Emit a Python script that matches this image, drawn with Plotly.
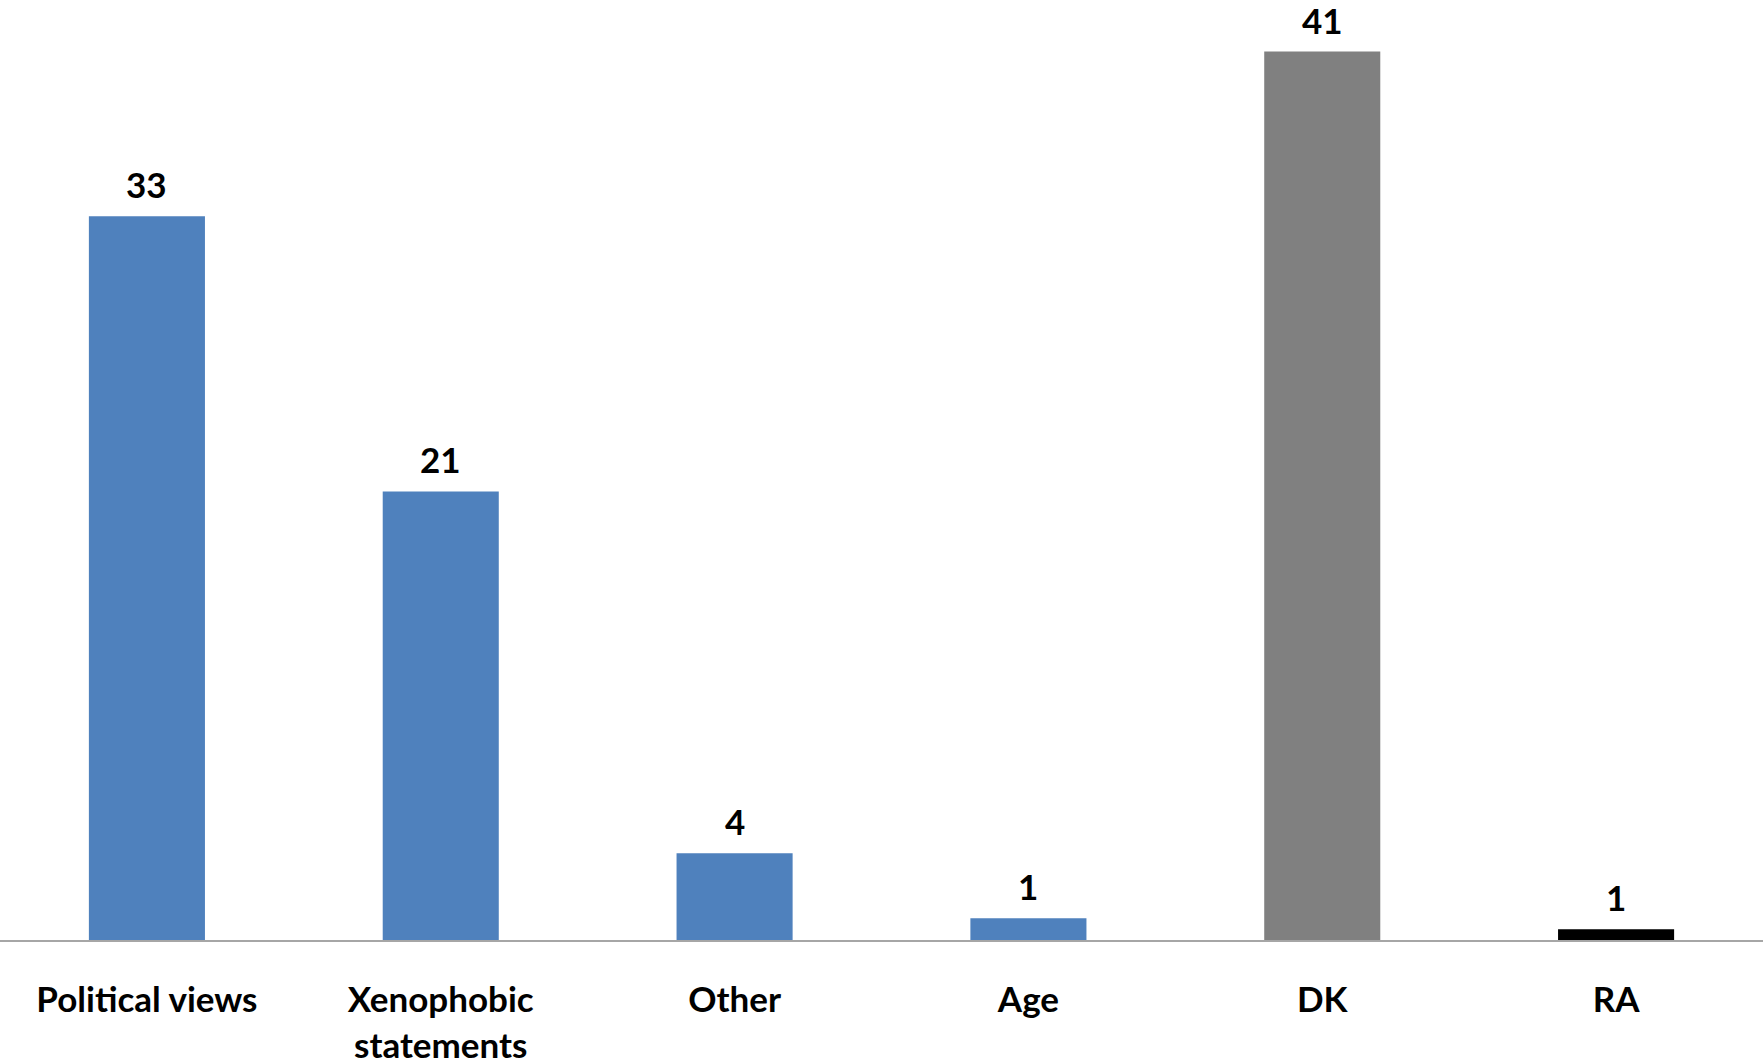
import math
import plotly.graph_objects as go

categories = ["Political views", "Xenophobic<br>statements", "Other", "Age", "DK", "RA"]
values = [33.4, 20.7, 4.0, 1.0, 41.0, 0.5]
bar_colors = ["#4F81BD", "#4F81BD", "#4F81BD", "#4F81BD", "#808080", "#000000"]
value_labels = [str(int(math.floor(v + 0.5))) for v in values]

FONT = "Lato"
FS = 35

fig = go.Figure()
fig.add_trace(go.Bar(
    x=categories,
    y=values,
    marker=dict(color=bar_colors, line=dict(width=0)),
    showlegend=False,
    hoverinfo="skip",
))

for c, v, t in zip(categories, values, value_labels):
    fig.add_annotation(
        x=c, y=v, text="<b>%s</b>" % t, showarrow=False,
        yanchor="bottom", yshift=10, borderpad=0,
        font=dict(family=FONT, size=FS, color="#000000"),
    )

fig.update_layout(
    width=1763, height=1061,
    margin=dict(l=0, r=0, t=0, b=121),
    paper_bgcolor="white", plot_bgcolor="white",
    bargap=0.605,
    font=dict(family=FONT, size=FS, color="#000000"),
    xaxis=dict(
        showline=True, linecolor="#A6A6A6", linewidth=2,
        showgrid=False, ticks="", ticklabelstandoff=28, automargin=False,
        tickfont=dict(family=FONT, size=FS, color="#000000", weight="bold"),
        fixedrange=True,
    ),
    yaxis=dict(
        range=[0, 43.38], showgrid=False, zeroline=False, automargin=False,
        showticklabels=False, showline=False, ticks="", fixedrange=True,
    ),
)

fig.write_html(
    "out.html",
    config={"displayModeBar": False},
    post_script="document.body.style.margin='0';document.body.style.overflow='hidden';",
)
